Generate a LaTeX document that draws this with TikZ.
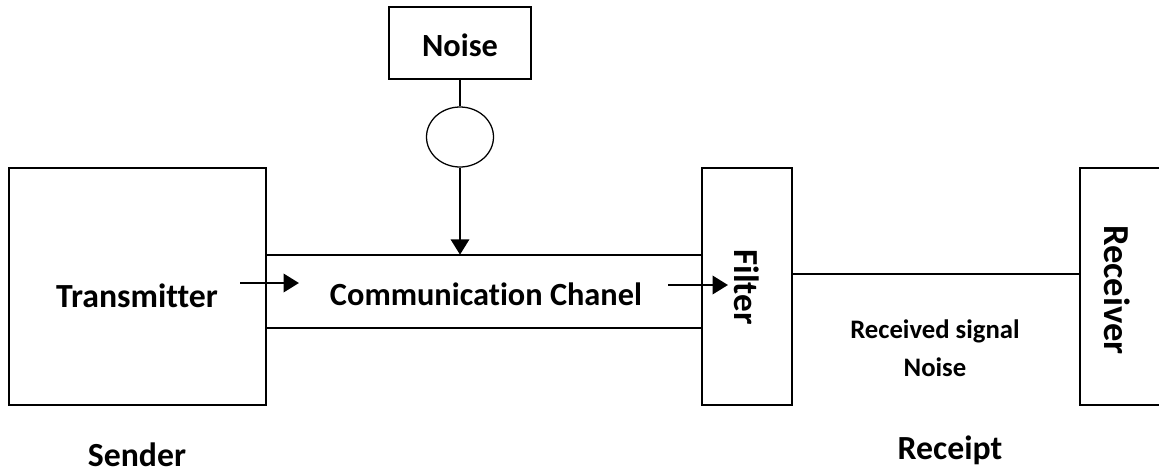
\documentclass[tikz,border=0pt]{standalone}
\usepackage{fontspec}
\setmainfont{Carlito}[Ligatures={NoCommon}]
\usetikzlibrary{arrows.meta,positioning,calc,shapes.geometric}
\tikzset{
  >={Triangle[length=11pt,width=13pt]},
  blk/.style={draw=black,line width=1.3pt,fill=white,inner sep=0pt},
  lbl/.style={font=\bfseries\fontsize{24}{28}\selectfont,inner sep=0pt},
  vlbl/.style={lbl,font=\bfseries\fontsize{26}{30}\selectfont,rotate=-90},
  wire/.style={line width=1.3pt},
  flow/.style={->,line width=2pt},
}
\begin{document}
\begin{tikzpicture}[x=0.025cm,y=-0.025cm]
  \useasboundingbox (0,0) rectangle (1159,475);
  \clip (0,0) rectangle (1159,475);
  % blocks
  \node[blk,minimum width=257*0.025cm,minimum height=237*0.025cm] (trans) at (137.5,286.5) {};
  \node[blk,minimum width=90*0.025cm,minimum height=237*0.025cm] (filt) at (747,286.5) {};
  \node[blk,minimum width=90*0.025cm,minimum height=237*0.025cm] (recv) at (1125,286.5) {};
  \node[blk,minimum width=142*0.025cm,minimum height=72*0.025cm] (noise) at (460,43) {};
  \node[blk,ellipse,line width=0.9pt,minimum width=67*0.025cm,minimum height=60*0.025cm] (mix) at (460,137) {};
  \node[minimum width=436*0.025cm,minimum height=73*0.025cm,inner sep=0pt] (chan) at (484,291.5) {};
  % texts
  \node[lbl] at (137,296) {Transmitter};
  \node[lbl,font=\bfseries\fontsize{23}{28}\selectfont] at (460,45) {Noise};
  \node[lbl,font=\bfseries\fontsize{23}{28}\selectfont] at (486,294) {Communication Chanel};
  \node[vlbl,font=\bfseries\fontsize{25}{30}\selectfont] at (747,287) {Filter};
  \node[vlbl] at (1117,290) {Receiver};
  \node[lbl,align=center,font=\bfseries\fontsize{19}{27}\selectfont] (rxsig) at (935,348) {Received signal\\Noise};
  \node[lbl] at (137,455) {Sender};
  \node[lbl] at (950,450) {Receipt};
  % channel
  \draw[wire] (chan.north west) -- (chan.north east);
  \draw[wire] (chan.south west) -- (chan.south east);
  % connectors
  \coordinate (fo) at (filt.east |- 0,274);
  \draw[wire] (fo) -- (fo -| recv.west);
  \draw[wire] (noise.south) -- (mix.north);
  \draw[flow] (mix.south) -- (mix.south |- chan.north);
  \coordinate (a1) at (240,283);
  \coordinate (a2) at (299,283);
  \draw[flow] (a1) -- (a2);
  \coordinate (b1) at (668,285);
  \coordinate (b2) at (728,285);
  \draw[flow] (b1) -- (b2);
\end{tikzpicture}
\end{document}
